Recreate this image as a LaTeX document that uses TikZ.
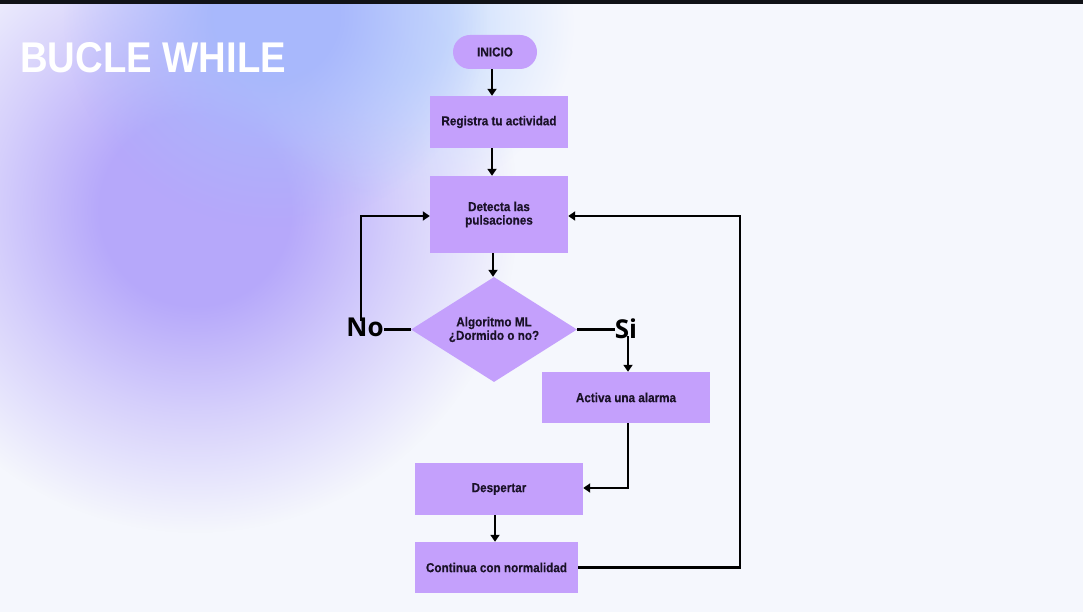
\documentclass[tikz,border=0pt]{standalone}
\usepackage{fontspec}
\usetikzlibrary{arrows.meta,shapes.geometric,fadings}
\newfontfamily\titlef{Liberation Sans}[FakeStretch=0.89]
\newfontfamily\nodef{Liberation Sans}[FakeStretch=0.9,FakeBold=0.3]
\newfontfamily\labf{Open Sans}
\definecolor{bgc}{RGB}{245,247,253}
\definecolor{pblob}{RGB}{182,168,250}
\definecolor{bblob}{RGB}{168,184,252}
\definecolor{lblob}{RGB}{200,220,253}
\definecolor{boxc}{RGB}{196,160,252}
\definecolor{txtc}{RGB}{26,18,40}
\definecolor{topbar}{RGB}{16,18,23}
\pgfdeclareradialshading{softsh}{\pgfpointorigin}{color(0bp)=(white); color(7bp)=(white); color(15bp)=(gray); color(24bp)=(black); color(50bp)=(black)}
\pgfdeclarefading{soft}{\pgfuseshading{softsh}}
\tikzset{
  box/.style={rectangle, fill=boxc, draw=none, text=txtc, align=center,
    font=\nodef\bfseries\fontsize{13}{13.5}\selectfont, inner sep=2pt},
  pill/.style={box, rounded corners=17pt},
  decision/.style={diamond, fill=boxc, draw=none, text=txtc, align=center,
    font=\nodef\bfseries\fontsize{13}{13.5}\selectfont, inner sep=0pt,
    minimum width=166pt, minimum height=105pt, aspect=1.58},
  lab/.style={text=black, font=\labf\bfseries\fontsize{26}{28}\selectfont, inner sep=0pt},
  conn/.style={line width=2.8pt, draw=black},
  arr/.style={conn, -{Triangle[width=9pt,length=7pt]}},
}
\begin{document}
\begin{tikzpicture}[x=1pt,y=-1pt]
\useasboundingbox (0,0) rectangle (1083,612);
\begin{scope}
\clip (0,0) rectangle (1083,612);
\fill[bgc] (0,0) rectangle (1083,612);
\fill[pblob, path fading=soft] (195,210) circle (335);
\fill[lblob, path fading=soft, opacity=0.9] (400,25) circle (180);
\fill[bblob, path fading=soft] (275,15) circle (220);
\fill[topbar] (0,0) rectangle (1083,4);
\end{scope}
\node[anchor=base west, inner sep=0pt, text=white, font=\titlef\bfseries\fontsize{43}{45}\selectfont] (title) at (20,73) {BUCLE WHILE};

\node[pill, minimum width=84pt, minimum height=34pt] (ini) at (495,52) {INICIO};
\node[box, minimum width=138pt, minimum height=52pt] (reg) at (499,122) {Registra tu actividad};
\node[box, minimum width=138pt, minimum height=77pt] (det) at (499,214.5) {Detecta las\\pulsaciones};
\node[decision] (dia) at (494,329.5) {Algoritmo ML\\¿Dormido o no?};
\node[box, minimum width=168pt, minimum height=51pt] (act) at (626,397.5) {Activa una alarma};
\node[box, minimum width=168pt, minimum height=52pt] (desp) at (499,489) {Despertar};
\node[box, minimum width=163pt, minimum height=51pt] (cont) at (496.5,567.5) {Continua con normalidad};

\node[lab] (no) at (365,327) {No};
\node[lab] (si) at (626,329) {Si};
\coordinate (rc) at (740,568);

\draw[arr] ([xshift=-3pt]ini.south) -- ([xshift=-3pt]ini.south |- reg.north);
\draw[arr] ([xshift=-7pt]reg.south) -- ([xshift=-7pt]reg.south |- det.north);
\draw[arr] ([xshift=-6pt]det.south) -- ([xshift=-6pt]det.south |- dia.north);
\draw[conn] (dia.west) -- (dia.west -| no.east);
\draw[arr] ([xshift=-4pt,yshift=-4pt]no.north) |- ([yshift=-1.5pt]det.west);
\draw[conn] (dia.east) -- (dia.east -| si.west);
\draw[arr] ([xshift=2pt,yshift=3pt]si.south) -- ([xshift=2pt]si.south |- act.north);
\draw[arr] ([xshift=2pt]act.south) |- ([yshift=1pt]desp.east);
\draw[arr] ([xshift=-4pt]desp.south) -- ([xshift=-4pt]desp.south |- cont.north);
\draw[arr] (cont.east) -- (cont.east -| rc) |- ([yshift=-1.5pt]det.east);
\end{tikzpicture}
\end{document}
